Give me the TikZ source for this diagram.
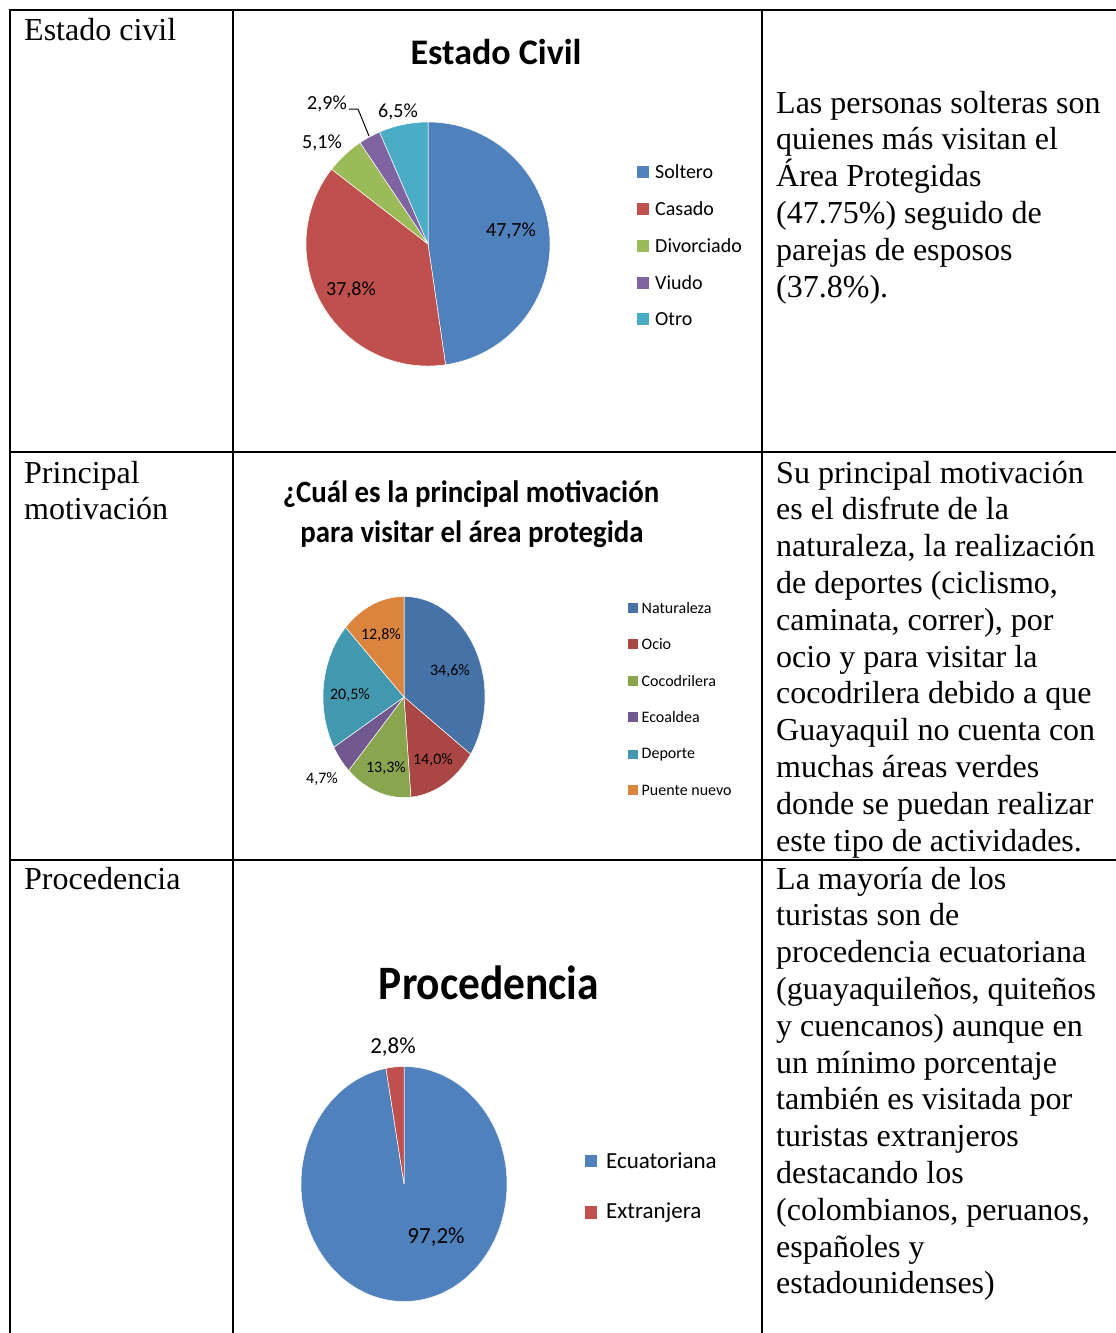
\documentclass[tikz,border=0pt]{standalone}
\usepackage{fontspec}
\setmainfont{Liberation Serif}
\newfontfamily\chartfont{Carlito}
\definecolor{cBlue}{HTML}{4F81BD}
\definecolor{cRed}{HTML}{C0504D}
\definecolor{cGreen}{HTML}{9BBB59}
\definecolor{cPurple}{HTML}{8064A2}
\definecolor{cCyan}{HTML}{4BACC6}
\definecolor{dBlue}{HTML}{4572A7}
\definecolor{dRed}{HTML}{AA4643}
\definecolor{dGreen}{HTML}{89A54E}
\definecolor{dPurple}{HTML}{71588F}
\definecolor{dCyan}{HTML}{4198AF}
\definecolor{dOrange}{HTML}{DB843D}
\newcommand\pieslice[7]{\fill[#7,draw=white,line width=0.5pt] (#1,#2) -- ++(#5:#3 and #4) arc[start angle=#5, end angle=#6, x radius=#3, y radius=#4] -- cycle;}
\newcommand\paralines[4]{\foreach \lline [count=\kk from 0] in {#4} {\node[body] (#1-\kk) at (#2, #3-36.8*\kk) {\lline};}}
\begin{document}
\begin{tikzpicture}[x=1pt,y=1pt,
  grid/.style={line width=2.3pt},
  body/.style={font=\fontsize{32}{36.8}\selectfont, anchor=base west, inner sep=0pt},
  lab/.style={inner sep=0pt},
  sqA/.style={minimum size=12pt, inner sep=0pt},
  sqB/.style={minimum size=9.5pt, inner sep=0pt},
  sqC/.style={minimum size=12.5pt, inner sep=0pt},
  fA/.style={font=\chartfont\fontsize{20}{24}\selectfont},
  fB/.style={font=\chartfont\fontsize{16}{19}\selectfont},
  fC/.style={font=\chartfont\fontsize{23}{27}\selectfont},
  ttl/.style={anchor=base, inner sep=0pt}]
\useasboundingbox (0,0) rectangle (1116,-1333);
% table grid
\draw[grid] (8.85,-10) -- (1116,-10);
\draw[grid] (10,-8.85) -- (10,-1333);
\draw[grid] (233,-10) -- (233,-1333);
\draw[grid] (762,-10) -- (762,-1333);
\draw[grid] (10,-452) -- (1116,-452);
\draw[grid] (10,-860) -- (1116,-860);
% left column
\node[body] (h1) at (24,-40) {Estado civil};
\paralines{h2}{24}{-483}{Principal,motivación}
\node[body] (h3) at (24,-889) {Procedencia};
% right column
\paralines{ra}{776}{-113}{Las personas solteras son,quienes más visitan el,Área Protegidas,(47.75\%) seguido de,parejas de esposos,(37.8\%).}
\paralines{rb}{776}{-483}{Su principal motivación,es el disfrute de la,{naturaleza, la realización},{de deportes (ciclismo,},{caminata, correr), por},ocio y para visitar la,cocodrilera debido a que,Guayaquil no cuenta con,muchas áreas verdes,donde se puedan realizar,este tipo de actividades.}
\paralines{rc}{776}{-889}{La mayoría de los,turistas son de,procedencia ecuatoriana,{(guayaquileños, quiteños},y cuencanos) aunque en,un mínimo porcentaje,también es visitada por,turistas extranjeros,destacando los,{(colombianos, peruanos,},españoles y,estadounidenses)}
% ---------- chart 1
\node[ttl, font=\chartfont\bfseries\fontsize{36}{40}\selectfont] (t1) at (496,-64) {Estado Civil};
\pieslice{428}{-244}{122}{122}{90}{-81.72}{cBlue}
\pieslice{428}{-244}{122}{122}{-81.72}{-217.8}{cRed}
\pieslice{428}{-244}{122}{122}{-217.8}{-236.16}{cGreen}
\pieslice{428}{-244}{122}{122}{-236.16}{-246.6}{cPurple}
\pieslice{428}{-244}{122}{122}{-246.6}{-270}{cCyan}
\node[lab,fA] (a1) at (511,-231) {47,7\%};
\node[lab,fA] (a2) at (351,-290) {37,8\%};
\node[lab,fA] (a3) at (322,-143) {5,1\%};
\node[lab,fA] (a4) at (327,-104) {2,9\%};
\node[lab,fA] (a5) at (398,-112) {6,5\%};
\coordinate (k0) at (349,-109);
\coordinate (k1) at (358,-109);
\coordinate (k2) at (369,-136);
\draw[line width=1pt] (k0) -- (k1) -- (k2);
\foreach \c/\t/\y [count=\i] in {cBlue/Soltero/172,cRed/Casado/209,cGreen/Divorciado/246,cPurple/Viudo/283,cCyan/Otro/319}{
  \node[sqA,fill=\c] (ls\i) at (643,-\y) {};
  \node[lab,fA,anchor=west] (lt\i) at (655,-\y) {\t};
}
% ---------- chart 2
\node[ttl, font=\chartfont\bfseries\fontsize{31}{36}\selectfont] (t2a) at (471,-502) {\scalebox{0.93}[1]{¿Cuál es la principal motivación}};
\node[ttl, font=\chartfont\bfseries\fontsize{31}{36}\selectfont] (t2b) at (472,-542) {\scalebox{0.93}[1]{para visitar el área protegida}};
\pieslice{404}{-697}{81}{100.5}{90}{-34.68}{dBlue}
\pieslice{404}{-697}{81}{100.5}{-34.68}{-85.14}{dRed}
\pieslice{404}{-697}{81}{100.5}{-85.14}{-133.06}{dGreen}
\pieslice{404}{-697}{81}{100.5}{-133.06}{-150.0}{dPurple}
\pieslice{404}{-697}{81}{100.5}{-150.0}{-223.87}{dCyan}
\pieslice{404}{-697}{81}{100.5}{-223.87}{-270}{dOrange}
\node[lab,fB] (b1) at (450,-671) {34,6\%};
\node[lab,fB] (b2) at (381,-635) {12,8\%};
\node[lab,fB] (b3) at (350,-695) {20,5\%};
\node[lab,fB] (b4) at (433,-760) {14,0\%};
\node[lab,fB] (b5) at (386,-768) {13,3\%};
\node[lab,fB] (b6) at (322,-779) {4,7\%};
\foreach \c/\t/\y [count=\i] in {dBlue/Naturaleza/608,dRed/Ocio/644,dGreen/Cocodrilera/681,dPurple/Ecoaldea/717,dCyan/Deporte/754.5,dOrange/Puente nuevo/790}{
  \node[sqB,fill=\c] (ms\i) at (633,-\y) {};
  \node[lab,fB,anchor=west] (mt\i) at (641.5,-\y) {\t};
}
% ---------- chart 3
\node[ttl, font=\chartfont\bfseries\fontsize{48}{54}\selectfont] (t3) at (489,-999) {\scalebox{0.905}[1]{Procedencia}};
\pieslice{404}{-1184}{103}{117.5}{90}{-259.92}{cBlue}
\pieslice{404}{-1184}{103}{117.5}{-259.92}{-270}{cRed}
\node[lab,fC] (c1) at (393,-1047) {2,8\%};
\node[lab,fC] (c2) at (436,-1237) {97,2\%};
\foreach \c/\t/\y [count=\i] in {cBlue/Ecuatoriana/1161,cRed/Extranjera/1212.5}{
  \node[sqC,fill=\c] (ns\i) at (591,-\y) {};
  \node[lab,fC,anchor=west] (nt\i) at (606,-\y) {\t};
}
\end{tikzpicture}
\end{document}
